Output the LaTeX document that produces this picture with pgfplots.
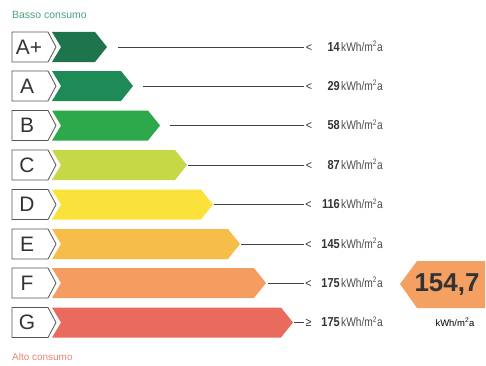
\documentclass[border=0pt]{standalone}
\usepackage{fontspec}
\setmainfont{Liberation Sans}
\usepackage{pgfplots}
\pgfplotsset{compat=1.18}
\definecolor{cAp}{HTML}{1E744C}
\definecolor{cA}{HTML}{1E8B57}
\definecolor{cB}{HTML}{2DA84B}
\definecolor{cC}{HTML}{C5D846}
\definecolor{cD}{HTML}{FBE23A}
\definecolor{cE}{HTML}{F6BD4A}
\definecolor{cF}{HTML}{F59D60}
\definecolor{cG}{HTML}{E96B5E}
\definecolor{cBig}{HTML}{F5A063}
\definecolor{boxline}{HTML}{555555}
\definecolor{txt}{HTML}{333333}
\newcommand{\unit}{\fontsize{12.5}{13}\selectfont\color{black!70}\scalebox{0.82}[1]{kWh/m\textsuperscript{\fontsize{8}{8}\selectfont 2}a}}
\newcommand{\num}[1]{\fontsize{13}{14}\bfseries\selectfont\scalebox{0.85}[1]{#1}}
\newcommand{\rel}[1]{\fontsize{12}{13}\selectfont\scalebox{0.9}[1]{#1}}
\begin{document}
\begin{tikzpicture}
\begin{axis}[scale only axis, width=486bp, height=366bp,
  xmin=0, xmax=486, ymin=0, ymax=366, y dir=reverse,
  axis lines=none, clip=false]
\path (axis cs:0,0) rectangle (axis cs:486,366);
% colored arrows
\addplot[fill=cAp, draw=none] coordinates {(52,32)(95,32)(107,47)(95,62)(52,62)(61,47)} --cycle;
\addplot[fill=cA, draw=none] coordinates {(52,71)(121,71)(133,86)(121,101)(52,101)(61,86)} --cycle;
\addplot[fill=cB, draw=none] coordinates {(52,110.5)(148,110.5)(160,125.5)(148,140.5)(52,140.5)(61,125.5)} --cycle;
\addplot[fill=cC, draw=none] coordinates {(52,150)(175,150)(187,165)(175,180)(52,180)(61,165)} --cycle;
\addplot[fill=cD, draw=none] coordinates {(52,189.5)(201,189.5)(213,204.5)(201,219.5)(52,219.5)(61,204.5)} --cycle;
\addplot[fill=cE, draw=none] coordinates {(52,229)(228,229)(240,244)(228,259)(52,259)(61,244)} --cycle;
\addplot[fill=cF, draw=none] coordinates {(52,268)(254,268)(266,283)(254,298)(52,298)(61,283)} --cycle;
\addplot[fill=cG, draw=none] coordinates {(52,307.5)(281,307.5)(293,322.5)(281,337.5)(52,337.5)(61,322.5)} --cycle;
% label boxes
\addplot[fill=white, draw=boxline, line width=0.8pt] coordinates {(12,32)(48,32)(56,47)(48,62)(12,62)} --cycle;
\addplot[fill=white, draw=boxline, line width=0.8pt] coordinates {(12,71)(48,71)(56,86)(48,101)(12,101)} --cycle;
\addplot[fill=white, draw=boxline, line width=0.8pt] coordinates {(12,110.5)(48,110.5)(56,125.5)(48,140.5)(12,140.5)} --cycle;
\addplot[fill=white, draw=boxline, line width=0.8pt] coordinates {(12,150)(48,150)(56,165)(48,180)(12,180)} --cycle;
\addplot[fill=white, draw=boxline, line width=0.8pt] coordinates {(12,189.5)(48,189.5)(56,204.5)(48,219.5)(12,219.5)} --cycle;
\addplot[fill=white, draw=boxline, line width=0.8pt] coordinates {(12,229)(48,229)(56,244)(48,259)(12,259)} --cycle;
\addplot[fill=white, draw=boxline, line width=0.8pt] coordinates {(12,268)(48,268)(56,283)(48,298)(12,298)} --cycle;
\addplot[fill=white, draw=boxline, line width=0.8pt] coordinates {(12,307.5)(48,307.5)(56,322.5)(48,337.5)(12,337.5)} --cycle;
% class letters
\begin{scope}[every node/.style={text=txt, font=\fontsize{21}{22}\selectfont}]
\node at (axis cs:29,47) {A+};
\node at (axis cs:27,86) {A};
\node at (axis cs:27,125.5) {B};
\node at (axis cs:27,165) {C};
\node at (axis cs:27,204.5) {D};
\node at (axis cs:27,244) {E};
\node at (axis cs:27,283) {F};
\node at (axis cs:27,322.5) {G};
\end{scope}
% leader lines
\addplot[draw=black!75, line width=0.7pt] coordinates {(118,47)(304,47)};
\addplot[draw=black!75, line width=0.7pt] coordinates {(143,86)(304,86)};
\addplot[draw=black!75, line width=0.7pt] coordinates {(170,125.5)(304,125.5)};
\addplot[draw=black!75, line width=0.7pt] coordinates {(188,165)(304,165)};
\addplot[draw=black!75, line width=0.7pt] coordinates {(214,204.5)(304,204.5)};
\addplot[draw=black!75, line width=0.7pt] coordinates {(241,244)(304,244)};
\addplot[draw=black!75, line width=0.7pt] coordinates {(268,283)(304,283)};
\addplot[draw=black!75, line width=0.7pt] coordinates {(294,322.5)(304,322.5)};
% threshold texts
\begin{scope}[every node/.style={text=txt, inner sep=0pt}]
\node[anchor=base] at (axis cs:309,51) {\rel{<}};
\node[anchor=base] at (axis cs:309,90) {\rel{<}};
\node[anchor=base] at (axis cs:309,129.5) {\rel{<}};
\node[anchor=base] at (axis cs:309,169) {\rel{<}};
\node[anchor=base] at (axis cs:308.5,208.5) {\rel{<}};
\node[anchor=base] at (axis cs:308.5,248) {\rel{<}};
\node[anchor=base] at (axis cs:308.5,287) {\rel{<}};
\node[anchor=base] at (axis cs:308.5,326.5) {\rel{≥}};
\node[anchor=base east] at (axis cs:340,51) {\num{14}};
\node[anchor=base east] at (axis cs:340,90) {\num{29}};
\node[anchor=base east] at (axis cs:340,129.5) {\num{58}};
\node[anchor=base east] at (axis cs:340,169) {\num{87}};
\node[anchor=base east] at (axis cs:340,208.5) {\num{116}};
\node[anchor=base east] at (axis cs:340,248) {\num{145}};
\node[anchor=base east] at (axis cs:340,287) {\num{175}};
\node[anchor=base east] at (axis cs:340,326.5) {\num{175}};
\node[anchor=base west] at (axis cs:341,51) {\unit};
\node[anchor=base west] at (axis cs:341,90) {\unit};
\node[anchor=base west] at (axis cs:341,129.5) {\unit};
\node[anchor=base west] at (axis cs:341,169) {\unit};
\node[anchor=base west] at (axis cs:341,208.5) {\unit};
\node[anchor=base west] at (axis cs:341,248) {\unit};
\node[anchor=base west] at (axis cs:341,287) {\unit};
\node[anchor=base west] at (axis cs:341,326.5) {\unit};
\end{scope}
% big value arrow
\addplot[fill=cBig, draw=none] coordinates {(400,284)(417,261)(485,261)(485,308)(417,308)} --cycle;
\node[text=txt, font=\fontsize{26}{28}\bfseries\selectfont] at (axis cs:447,285) {154,7};
\node[text=black, font=\fontsize{9.5}{10}\selectfont] at (axis cs:455,322) {kWh/m\textsuperscript{2}a};
% top and bottom captions
\node[anchor=west, text=cA!80!white, inner sep=0pt, font=\fontsize{10.5}{11}\selectfont] at (axis cs:12,15) {Basso consumo};
\node[anchor=west, text=cG!85!white, inner sep=0pt, font=\fontsize{10}{11}\selectfont] at (axis cs:12,357) {Alto consumo};
\end{axis}
\end{tikzpicture}
\end{document}
